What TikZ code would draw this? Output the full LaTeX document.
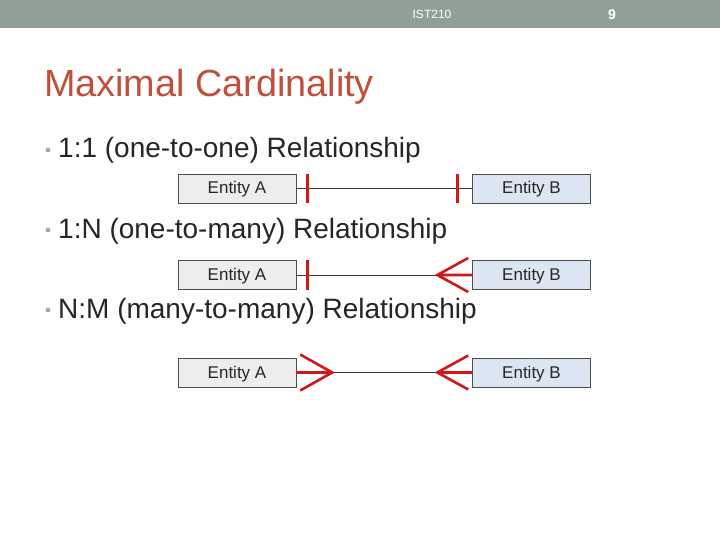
\documentclass[tikz,border=0pt]{standalone}
\usepackage{fontspec}
\setmainfont{Liberation Sans}
\usepackage{tikz}
\usetikzlibrary{positioning}

\definecolor{barcol}{HTML}{91A096}
\definecolor{titlecol}{HTML}{C0503C}
\definecolor{cardred}{HTML}{D01818}
\definecolor{boxA}{HTML}{EDEDED}
\definecolor{boxB}{HTML}{DCE6F2}
\definecolor{dotgray}{HTML}{A0A8A4}

\begin{document}
\begin{tikzpicture}[x=1pt,y=-1pt,
	entity/.style={draw=black!70,minimum width=118pt,minimum height=29pt,inner sep=0pt,text height=11pt,text depth=0pt,text=black!85,font=\fontsize{17}{19}\selectfont},
	bullet/.style={anchor=base west,inner sep=0pt,text=black!85,font=\fontsize{28}{32}\selectfont},
	conn/.style={draw=black!80,line width=0.8pt},
	card/.style={draw=cardred,line width=2.6pt}]

	\useasboundingbox (0,0) rectangle (720,540);
	\fill[white] (0,0) rectangle (720,540);
	\fill[barcol] (0,0) rectangle (720,28);
	\node[text=white,font=\fontsize{12}{14}\selectfont] (course) at (432,14) {IST210};
	\node[text=white,font=\bfseries\fontsize{14}{16}\selectfont] (page) at (612,15) {9};

	\node[anchor=base west,inner sep=0pt,text=titlecol,font=\fontsize{37.8}{44}\selectfont] (title) at (44,97) {Maximal Cardinality};

	\node[bullet] (l1) at (58,158) {1:1 (one-to-one) Relationship};
	\node[bullet] (l2) at (58,238) {1:N (one-to-many) Relationship};
	\node[bullet] (l3) at (58,318) {N:M (many-to-many) Relationship};
	\foreach \y in {150,230,310}
		\fill[dotgray] (48,\y) circle (2.4pt);

	% 1:1
	\node[entity,fill=boxA] (a1) at (237,188.5) {Entity A};
	\node[entity,fill=boxB] (b1) at (531.5,188.5) {Entity B};
	\path[conn] (a1) -- (b1);
	\path[card] ([xshift=11pt]a1.north east) -- ([xshift=11pt]a1.south east);
	\path[card] ([xshift=-15pt]b1.north west) -- ([xshift=-15pt]b1.south west);

	% 1:N
	\node[entity,fill=boxA] (a2) at (237,275) {Entity A};
	\node[entity,fill=boxB] (b2) at (531.5,275) {Entity B};
	\path[conn] (a2) -- (b2);
	\path[card] ([xshift=11pt]a2.north east) -- ([xshift=11pt]a2.south east);
	\coordinate (tip2) at ([xshift=-35pt]b2.west);
	\path[card] ([xshift=-4pt,yshift=17pt]b2.west) -- (tip2) -- ([xshift=-4pt,yshift=-17pt]b2.west)
		(tip2) -- (b2.west);

	% N:M
	\node[entity,fill=boxA] (a3) at (237,372.5) {Entity A};
	\node[entity,fill=boxB] (b3) at (531.5,372.5) {Entity B};
	\path[conn] (a3) -- (b3);
	\coordinate (tip3a) at ([xshift=36pt]a3.east);
	\path[card] ([xshift=4pt,yshift=18pt]a3.east) -- (tip3a) -- ([xshift=4pt,yshift=-18pt]a3.east)
		(a3.east) -- (tip3a);
	\coordinate (tip3b) at ([xshift=-35pt]b3.west);
	\path[card] ([xshift=-4pt,yshift=17pt]b3.west) -- (tip3b) -- ([xshift=-4pt,yshift=-17pt]b3.west)
		(tip3b) -- (b3.west);

\end{tikzpicture}
\end{document}
